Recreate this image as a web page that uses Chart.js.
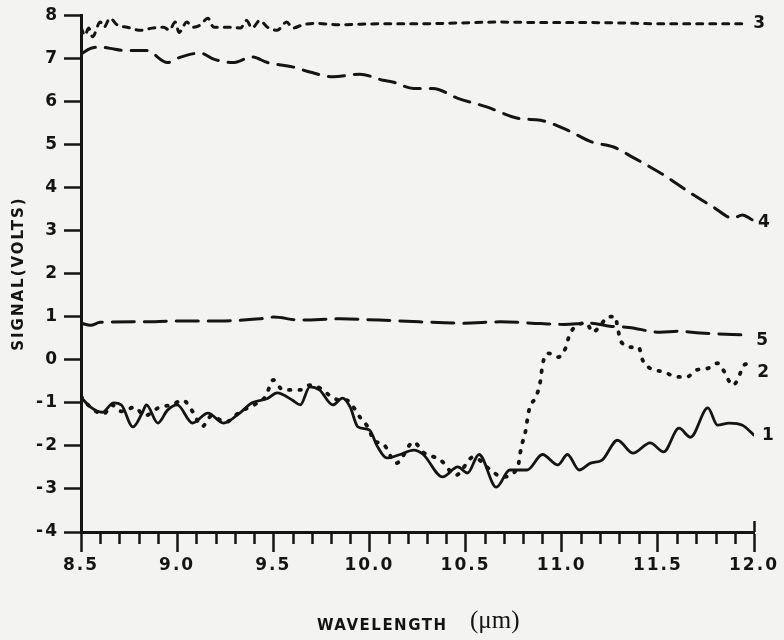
<!DOCTYPE html>
<html>
<head>
<meta charset="utf-8">
<script src="https://cdn.jsdelivr.net/npm/chart.js@4.4.0/dist/chart.umd.min.js"></script>
<style>
  html, body { margin: 0; padding: 0; background: #f3f3f1; }
  canvas { display: block; }
</style>
</head>
<body>
<canvas id="spectra" width="784" height="640"></canvas>
<script>
// Detector signal (volts) against wavelength (um), five traces.
const wl1 = [8.50, 8.55, 8.61, 8.67, 8.71, 8.77, 8.82, 8.84, 8.90, 8.95, 9.00, 9.08, 9.16, 9.24, 9.33, 9.39, 9.47, 9.52, 9.60, 9.64,
    9.69, 9.74, 9.81, 9.86, 9.90, 9.94, 10.00, 10.04, 10.09, 10.16, 10.23, 10.28, 10.38, 10.46, 10.51, 10.57, 10.66, 10.73, 10.82, 10.90,
    10.98, 11.03, 11.09, 11.15, 11.21, 11.29, 11.37, 11.46, 11.53, 11.61, 11.67, 11.76, 11.81, 11.87, 11.94, 12.00];
const sig1 = [-0.87, -1.10, -1.22, -1.00, -1.05, -1.56, -1.22, -1.05, -1.47, -1.17, -1.05, -1.47, -1.24, -1.47, -1.22, -1.00, -0.90, -0.77, -0.94, -1.05,
    -0.63, -0.70, -1.05, -0.89, -1.10, -1.56, -1.63, -2.00, -2.28, -2.20, -2.10, -2.20, -2.72, -2.49, -2.63, -2.20, -2.96, -2.56, -2.56, -2.20,
    -2.44, -2.20, -2.56, -2.40, -2.33, -1.87, -2.17, -1.93, -2.14, -1.59, -1.80, -1.12, -1.52, -1.47, -1.52, -1.75];

const wl2 = [8.50, 8.56, 8.62, 8.66, 8.71, 8.78, 8.83, 8.91, 8.97, 9.03, 9.08, 9.13, 9.18, 9.25, 9.33, 9.40, 9.46, 9.50, 9.55, 9.64,
    9.69, 9.76, 9.79, 9.85, 9.88, 9.95, 10.00, 10.02, 10.07, 10.14, 10.23, 10.28, 10.37, 10.45, 10.54, 10.63, 10.69, 10.77, 10.79, 10.81,
    10.83, 10.87, 10.89, 10.90, 10.93, 10.98, 11.02, 11.04, 11.08, 11.13, 11.16, 11.21, 11.24, 11.28, 11.29, 11.31, 11.37, 11.40, 11.42, 11.46,
    11.53, 11.60, 11.65, 11.70, 11.76, 11.81, 11.84, 11.89, 11.92, 11.94, 11.97];
const sig2 = [-0.85, -1.15, -1.25, -1.05, -1.20, -1.10, -1.30, -1.10, -1.05, -0.94, -1.20, -1.55, -1.30, -1.45, -1.20, -1.05, -0.85, -0.47, -0.70, -0.70,
    -0.59, -0.70, -0.82, -0.94, -0.94, -1.33, -1.63, -1.87, -1.95, -2.40, -1.91, -2.15, -2.33, -2.68, -2.26, -2.56, -2.72, -2.51, -2.02, -1.70,
    -1.17, -0.82, -0.47, -0.12, 0.15, 0.06, 0.27, 0.57, 0.80, 0.85, 0.64, 0.85, 1.00, 1.00, 0.76, 0.41, 0.29, 0.29, 0.00, -0.20,
    -0.28, -0.40, -0.40, -0.24, -0.20, -0.08, -0.24, -0.59, -0.42, -0.17, -0.08];

const wl3 = [8.50, 8.52, 8.54, 8.56, 8.60, 8.62, 8.65, 8.69, 8.74, 8.81, 8.87, 8.93, 8.96, 8.99, 9.01, 9.05, 9.08, 9.12, 9.16, 9.19,
    9.24, 9.29, 9.33, 9.36, 9.39, 9.43, 9.47, 9.52, 9.57, 9.60, 9.65, 9.71, 9.85, 10.05, 10.26, 10.47, 10.68, 10.89, 11.09, 11.30,
    11.51, 11.72, 11.97];
const sig3 = [7.72, 7.53, 7.70, 7.50, 7.84, 7.72, 7.93, 7.77, 7.72, 7.65, 7.70, 7.72, 7.65, 7.84, 7.60, 7.84, 7.72, 7.77, 7.93, 7.72,
    7.72, 7.72, 7.70, 7.88, 7.70, 7.88, 7.72, 7.65, 7.84, 7.70, 7.77, 7.81, 7.78, 7.80, 7.80, 7.82, 7.84, 7.83, 7.83, 7.82,
    7.80, 7.80, 7.80];

const wl4 = [8.50, 8.55, 8.60, 8.65, 8.73, 8.84, 8.95, 9.00, 9.12, 9.19, 9.29, 9.39, 9.47, 9.60, 9.69, 9.81, 9.95, 10.07, 10.12, 10.23,
    10.33, 10.46, 10.61, 10.78, 10.89, 11.03, 11.16, 11.27, 11.37, 11.53, 11.67, 11.79, 11.89, 11.94, 11.99];
const sig4 = [7.10, 7.23, 7.26, 7.23, 7.18, 7.18, 6.90, 7.00, 7.12, 6.98, 6.90, 7.03, 6.90, 6.80, 6.68, 6.57, 6.63, 6.49, 6.45, 6.30,
    6.30, 6.07, 5.87, 5.60, 5.56, 5.33, 5.05, 4.94, 4.70, 4.29, 3.87, 3.54, 3.29, 3.36, 3.25];

const wl5 = [8.50, 8.55, 8.60, 8.81, 9.01, 9.22, 9.43, 9.50, 9.64, 9.85, 10.05, 10.26, 10.49, 10.68, 10.89, 11.01, 11.15, 11.25, 11.35, 11.51,
    11.61, 11.72, 11.97];
const sig5 = [0.85, 0.80, 0.87, 0.88, 0.90, 0.90, 0.95, 0.99, 0.92, 0.95, 0.92, 0.88, 0.85, 0.88, 0.84, 0.82, 0.85, 0.78, 0.75, 0.64,
    0.66, 0.62, 0.57];

const traceNames = ['1', '2', '3', '4', '5'];
const xTicks = [8.5, 9.0, 9.5, 10.0, 10.5, 11.0, 11.5, 12.0];
const xLabels = ['8.5', '9.0', '9.5', '10.0', '10.5', '11.0', '11.5', '12.0'];
const yTicks = [-4, -3, -2, -1, 0, 1, 2, 3, 4, 5, 6, 7, 8];
const yLabels = ['-4', '-3', '-2', '-1', '0', '1', '2', '3', '4', '5', '6', '7', '8'];

const INK = '#141414';
const TICK_FONT = { family: '"DejaVu Sans", sans-serif', size: 17, weight: 'bold' };

// minor ticks every 0.1 between the labelled ones
const xMinor = [];
for (let i = 0; i < xTicks.length - 1; i++) {
    for (let k = 1; k < 5; k++) xMinor.push(xTicks[i] + k * 0.1);
}

function pts(xs, ys) {
    return xs.map((x, i) => ({ x, y: ys[i] }));
}

function trace(label, xs, ys, extra) {
    return Object.assign({
        label,
        data: pts(xs, ys),
        borderColor: INK,
        borderWidth: 3,
        pointRadius: 0,
        fill: false,
        cubicInterpolationMode: 'monotone',
        borderCapStyle: 'round',
        borderJoinStyle: 'round'
    }, extra);
}

const datasets = [
    trace(traceNames[0], wl1, sig1, { borderWidth: 2.8 }),
    trace(traceNames[1], wl2, sig2, { borderWidth: 3.8, borderDash: [1.5, 9] }),
    trace(traceNames[2], wl3, sig3, { borderDash: [6, 7] }),
    trace(traceNames[3], wl4, sig4, { borderDash: [16, 10] }),
    trace(traceNames[4], wl5, sig5, { borderDash: [22, 10] })
];

// pixel nudges for the trace numbers at the right-hand ends
const endNudge = [[8, 0], [9, 9], [5, 0], [6, 3], [8, 5]];

const plotterBits = {
    id: 'plotterBits',
    beforeDraw(chart) {
        chart.ctx.letterSpacing = '2px';
    },
    afterDraw(chart) {
        const { ctx, scales: { x, y } } = chart;
        const y0 = y.getPixelForValue(-4);
        ctx.save();
        ctx.strokeStyle = INK;
        ctx.lineWidth = 2.5;
        ctx.lineCap = 'butt';
        ctx.beginPath();
        for (const v of xMinor) {
            const px = Math.round(x.getPixelForValue(v)) + 0.5;
            ctx.moveTo(px, y0);
            ctx.lineTo(px, y0 + 12);
        }
        const xr = Math.round(x.getPixelForValue(12.0)) + 0.5;
        ctx.moveTo(xr, y0);
        ctx.lineTo(xr, y0 - 11);
        ctx.stroke();

        // trace numbers
        ctx.fillStyle = INK;
        ctx.font = 'bold 17px "DejaVu Sans", sans-serif';
        ctx.textAlign = 'left';
        ctx.textBaseline = 'middle';
        chart.data.datasets.forEach((ds, i) => {
            const last = ds.data[ds.data.length - 1];
            ctx.fillText(ds.label, x.getPixelForValue(last.x) + endNudge[i][0], y.getPixelForValue(last.y) + endNudge[i][1]);
        });

        // x axis title: plotter lettering plus typed unit
        ctx.font = 'bold 15px "DejaVu Sans", sans-serif';
        ctx.letterSpacing = '1.5px';
        ctx.fillText('WAVELENGTH', 317, 626);
        ctx.letterSpacing = '0px';
        ctx.font = '25px "Liberation Serif", serif';
        ctx.fillText('(\u03bcm)', 470, 621);
        ctx.restore();
    }
};

new Chart(document.getElementById('spectra'), {
    type: 'line',
    data: { datasets },
    plugins: [plotterBits],
    options: {
        responsive: false,
        animation: false,
        layout: { padding: { top: 15, right: 30, bottom: 0, left: 0 } },
        plugins: {
            legend: { display: false },
            tooltip: { enabled: false }
        },
        scales: {
            x: {
                type: 'linear',
                min: 8.5,
                max: 12.0,
                afterFit(scale) { scale.height = 108; },
                afterBuildTicks(scale) { scale.ticks = xTicks.map(v => ({ value: v })); },
                border: { color: INK, width: 3 },
                grid: { drawOnChartArea: false, color: INK, tickColor: INK, tickLength: 20, tickWidth: 2.5 },
                ticks: {
                    color: INK,
                    font: TICK_FONT,
                    padding: 3,
                    maxRotation: 0,
                    autoSkip: false,
                    callback: (v, i) => xLabels[i]
                }
            },
            y: {
                type: 'linear',
                min: -4,
                max: 8,
                afterFit(scale) { scale.width = 81; },
                afterBuildTicks(scale) { scale.ticks = yTicks.map(v => ({ value: v })); },
                border: { color: INK, width: 3 },
                grid: { drawOnChartArea: false, color: INK, tickColor: INK, tickLength: 17, tickWidth: 2.5 },
                ticks: {
                    color: INK,
                    font: TICK_FONT,
                    padding: 5,
                    autoSkip: false,
                    callback: (v, i) => yLabels[i]
                },
                title: {
                    display: true,
                    text: 'SIGNAL(VOLTS)',
                    color: INK,
                    font: { family: '"DejaVu Sans", sans-serif', size: 15, weight: 'bold' },
                    padding: { top: 10, bottom: 0 }
                }
            }
        }
    }
});
</script>
</body>
</html>
